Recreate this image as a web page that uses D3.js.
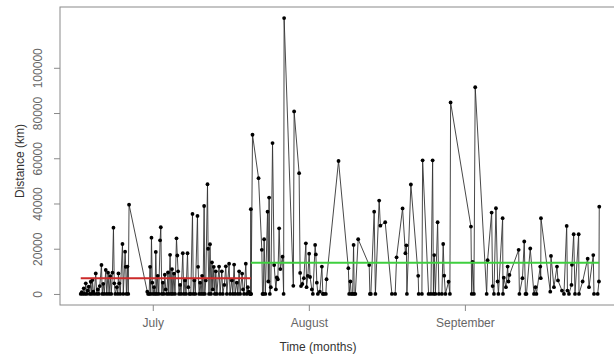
<!DOCTYPE html>
<html lang="en">
<head>
<meta charset="UTF-8">
<title>Distance over time</title>
<script src="https://d3js.org/d3.v7.min.js"></script>
<style>
  body { margin: 0; background: #fff; }
  text { font-family: "Liberation Sans", Arial, sans-serif; }
</style>
</head>
<body>
<svg id="chart" width="614" height="360"></svg>
<script>
// time of each record, in days counted from 1 June
var dayOffsets = [
  15.69, 15.89, 16.09, 16.29, 16.49, 16.69, 16.88, 17.08, 17.28, 17.48,
  17.68, 17.88, 18.02, 18.18, 18.38, 18.67, 18.87, 19.07, 19.27, 19.47,
  19.81, 19.96, 20.16, 20.36, 20.66, 20.86, 21.12, 21.32, 21.55, 21.75,
  21.99, 22.19, 22.35, 22.55, 22.85, 23.05, 23.18, 23.34, 23.54, 23.98,
  24.14, 24.50, 24.63, 24.77, 24.97, 25.13, 25.29, 28.91, 29.07, 29.27,
  29.46, 29.60, 29.74, 29.90, 30.06, 30.26, 30.44, 30.60, 30.79, 30.99,
  31.19, 31.45, 31.59, 31.79, 31.99, 32.19, 32.39, 32.58, 32.78, 33.02,
  33.18, 33.44, 33.62, 33.82, 33.98, 34.21, 34.41, 34.71, 34.87, 35.03,
  35.21, 35.43, 35.63, 35.96, 36.16, 36.40, 36.60, 36.90, 37.06, 37.25,
  37.55, 37.89, 38.05, 38.25, 38.45, 38.88, 39.00, 39.20, 39.40, 39.60,
  39.80, 39.98, 40.20, 40.33, 40.53, 40.87, 40.99, 41.17, 41.37, 41.57,
  41.76, 41.92, 42.12, 42.32, 42.52, 42.72, 43.17, 43.37, 43.71, 43.91,
  44.21, 44.51, 44.71, 45.16, 45.36, 45.70, 45.90, 46.16, 46.36, 46.69,
  46.89, 47.15, 47.35, 47.75, 47.93, 48.12, 48.48, 48.68, 48.88, 49.08,
  49.28, 49.42, 49.48, 49.54, 49.81, 51.01, 51.66, 51.80, 51.96, 52.12,
  52.36, 52.80, 52.95, 53.11, 53.25, 53.45, 53.79, 54.11, 54.45, 54.64,
  54.84, 55.10, 55.34, 55.78, 55.99, 56.09, 57.92, 58.08, 59.07, 59.27,
  59.45, 59.71, 60.01, 60.41, 60.55, 60.80, 61.06, 61.24, 61.60, 61.80,
  62.25, 62.39, 62.59, 62.79, 63.19, 63.59, 63.78, 63.98, 64.38, 64.52,
  66.90, 68.85, 69.01, 69.25, 69.41, 69.69, 69.89, 70.01, 70.24, 70.80,
  72.99, 73.13, 73.32, 73.98, 74.22, 74.97, 75.21, 76.17, 77.50, 78.15,
  78.43, 79.62, 80.18, 80.38, 80.48, 81.27, 82.72, 82.82, 83.46, 83.60,
  84.79, 85.25, 85.59, 85.75, 85.90, 86.14, 86.58, 86.84, 87.43, 87.69,
  87.89, 88.13, 88.76, 89.02, 89.16, 93.20, 93.35, 93.53, 93.79, 94.05,
  96.32, 96.51, 97.31, 97.51, 97.77, 98.17, 98.50, 98.66, 99.50, 99.56,
  99.72, 100.15, 100.49, 100.65, 100.85, 102.68, 102.83, 103.43, 103.79, 104.03,
  104.23, 104.98, 105.72, 106.02, 106.21, 106.97, 107.07, 107.11, 108.96, 109.10,
  109.69, 110.29, 110.49, 111.28, 111.68, 112.22, 112.37, 112.67, 113.17, 113.27,
  113.61, 113.87, 114.60, 114.66, 115.39, 116.39, 116.65, 117.50, 117.64, 118.38,
  118.63, 118.69
];

// distance of each record (km)
var distanceKm = [
  0, 800, 0, 2500, 0, 4700, 0, 1500, 3200, 0,
  5400, 0, 6200, 1000, 0, 9100, 0, 2000, 0, 3500,
  12800, 0, 4500, 0, 10600, 0, 9400, 0, 7900, 0,
  9400, 29300, 4700, 0, 3000, 0, 9100, 4700, 0, 22100,
  0, 18700, 12000, 0, 12100, 0, 39500, 1000, 0, 0,
  12000, 0, 24900, 5000, 0, 3000, 0, 18600, 0, 8000,
  0, 23700, 29500, 0, 5000, 0, 8500, 2000, 0, 9500,
  0, 17300, 0, 11000, 0, 9000, 0, 24600, 17000, 10000,
  0, 4000, 0, 18000, 0, 6000, 0, 18000, 3000, 0,
  0, 35400, 0, 6000, 0, 34500, 12000, 0, 5000, 0,
  8000, 0, 38900, 0, 6000, 48500, 20000, 0, 22000, 0,
  14000, 2000, 12000, 0, 10000, 0, 12100, 0, 10000, 0,
  4000, 12200, 0, 13400, 0, 6000, 0, 13000, 0, 5000,
  0, 10000, 0, 9000, 2000, 0, 13400, 0, 3000, 1000,
  0, 0, 37500, 0, 70400, 51200, 19500, 0, 0, 24200,
  0, 36400, 5500, 42600, 0, 3000, 66700, 12800, 2000, 7300,
  6500, 29000, 11000, 16500, 0, 122000, 3600, 80700, 53400, 9300,
  3500, 4400, 7000, 22400, 3000, 8000, 17800, 7500, 2000, 0,
  21700, 17500, 5000, 0, 1000, 12100, 0, 0, 0, 6500,
  58800, 11400, 0, 5500, 0, 0, 21700, 0, 0, 24200,
  12800, 0, 0, 36400, 0, 41300, 30200, 31700, 0, 0,
  16200, 37800, 18000, 21500, 0, 48400, 8000, 0, 0, 59100,
  0, 0, 59100, 0, 17200, 0, 31700, 0, 0, 22100,
  8100, 0, 5400, 0, 84700, 29800, 0, 14200, 0, 91400,
  0, 14900, 36000, 3500, 0, 37900, 5500, 0, 33500, 0,
  7200, 3000, 12100, 5500, 8400, 19500, 0, 7000, 23200, 0,
  0, 20100, 0, 3000, 0, 12100, 7000, 33500, 1000, 16800,
  3000, 12100, 6000, 1500, 0, 30100, 1500, 0, 4000, 12900,
  26400, 0, 26400, 0, 5500, 15600, 3000, 17200, 0, 0,
  5500, 38600
];

// mean distance over the two periods
var periodStart = [15.69, 49.48];
var periodEnd = [49.48, 118.69];
var periodMean = [7000, 13800];
var periodColor = ["#cc2a2a", "#3fcf3f"];

var yTicks = [0, 20000, 40000, 60000, 80000, 100000];
var monthTicks = ["2014-07-01", "2014-08-01", "2014-09-01"];

var origin = new Date(2014, 5, 1);
function toDate(d) { return new Date(origin.getTime() + d * 864e5); }
var parseDay = d3.timeParse("%Y-%m-%d");

var data = dayOffsets.map(function (d, i) { return { t: toDate(d), v: distanceKm[i] }; });

var svg = d3.select("#chart");
var plotLeft = 60, plotRight = 620, plotTop = 7, plotBottom = 305;

// R style: pad the data range by 4% on each side
var d0 = d3.min(dayOffsets), d1 = d3.max(dayOffsets), pad = (d1 - d0) * 0.04;
var vMax = d3.max(distanceKm);

var x = d3.scaleTime()
    .domain([toDate(d0 - pad), toDate(d1 + pad)])
    .range([plotLeft, plotRight]);

var y = d3.scaleLinear()
    .domain([-0.04 * vMax, 1.04 * vMax])
    .range([plotBottom, plotTop]);

// series line
var line = d3.line()
    .x(function (d) { return x(d.t); })
    .y(function (d) { return y(d.v); });

svg.append("path")
    .datum(data)
    .attr("fill", "none")
    .attr("stroke", "#333")
    .attr("stroke-width", 0.9)
    .attr("d", line);

svg.append("g")
    .selectAll("circle")
    .data(data)
    .join("circle")
    .attr("cx", function (d) { return x(d.t); })
    .attr("cy", function (d) { return y(d.v); })
    .attr("r", 1.9)
    .attr("fill", "#000");

// mean lines
svg.append("g")
    .selectAll("line")
    .data(periodMean)
    .join("line")
    .attr("x1", function (d, i) { return x(toDate(periodStart[i])); })
    .attr("x2", function (d, i) { return x(toDate(periodEnd[i])); })
    .attr("y1", function (d) { return y(d); })
    .attr("y2", function (d) { return y(d); })
    .attr("stroke", function (d, i) { return periodColor[i]; })
    .attr("stroke-width", 2);

// box
svg.append("rect")
    .attr("x", plotLeft)
    .attr("y", plotTop)
    .attr("width", plotRight - plotLeft)
    .attr("height", plotBottom - plotTop)
    .attr("fill", "none")
    .attr("stroke", "#8a8a8a");

// y axis
var yAxis = svg.append("g")
    .attr("transform", "translate(" + plotLeft + ",0)")
    .call(d3.axisLeft(y).tickValues(yTicks).tickSize(6).tickFormat(d3.format("d")));
yAxis.select(".domain").remove();
yAxis.selectAll("line").attr("stroke", "#8a8a8a");
yAxis.selectAll("text")
    .attr("x", 0)
    .attr("dy", 0)
    .attr("transform", "translate(-18,0) rotate(-90)")
    .attr("text-anchor", "middle")
    .attr("fill", "#666")
    .attr("font-size", 12);

// x axis
var xAxis = svg.append("g")
    .attr("transform", "translate(0," + plotBottom + ")")
    .call(d3.axisBottom(x).tickValues(monthTicks.map(parseDay)).tickSize(6).tickFormat(d3.timeFormat("%B")));
xAxis.select(".domain").remove();
xAxis.selectAll("line").attr("stroke", "#8a8a8a");
xAxis.selectAll("text")
    .attr("y", 13)
    .attr("fill", "#666")
    .attr("font-size", 12);

// titles
svg.append("text")
    .attr("x", 318)
    .attr("y", 351)
    .attr("text-anchor", "middle")
    .attr("font-size", 12)
    .attr("fill", "#333")
    .text("Time (months)");

svg.append("text")
    .attr("transform", "translate(24,161) rotate(-90)")
    .attr("text-anchor", "middle")
    .attr("font-size", 12)
    .attr("fill", "#333")
    .text("Distance (km)");
</script>
</body>
</html>
